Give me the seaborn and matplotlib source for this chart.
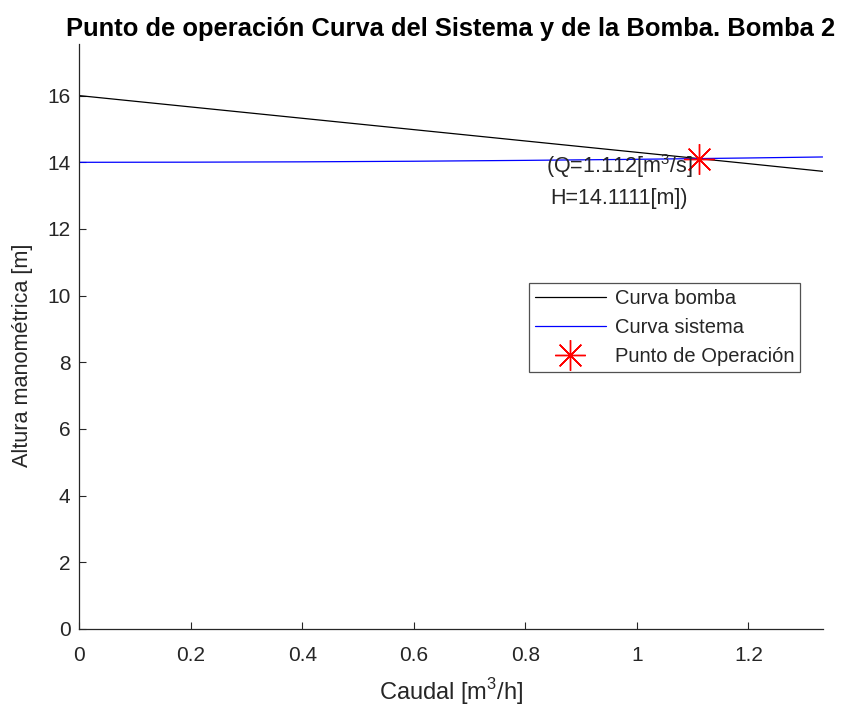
import numpy as np
import pandas as pd
import matplotlib
matplotlib.use("Agg")
import matplotlib.pyplot as plt
import seaborn as sns

# Data
caudal = [0.0, 0.2, 0.4, 0.6, 0.8, 1.0, 1.2, 1.3333]
h_bomba = [16.0, 15.66, 15.32, 14.98, 14.64, 14.30, 13.96, 13.73]
h_sistema = [14.0, 14.004, 14.014, 14.032, 14.058, 14.09, 14.13, 14.16]
q_op = [1.112]
h_op = [14.1111]

title = "Punto de operación Curva del Sistema y de la Bomba. Bomba 2"
xlabel = "Caudal [m$^3$/h]"
ylabel = "Altura manométrica [m]"
labels = ["Curva bomba", "Curva sistema", "Punto de Operación"]
annot = "(Q=1.112[m$^3$/s]\nH=14.1111[m])"

sns.set_style("white")
plt.rcParams['font.family'] = ['Liberation Sans', 'DejaVu Sans']
plt.rcParams['mathtext.fontset'] = 'custom'
plt.rcParams['mathtext.rm'] = 'Liberation Sans'

fig = plt.figure(figsize=(8.42, 7.08), dpi=100)
ax = fig.add_axes([0.0944, 0.1116, 0.8826, 0.8263])

df_b = pd.DataFrame({"Q": caudal, "H": h_bomba})
df_s = pd.DataFrame({"Q": caudal, "H": h_sistema})
df_p = pd.DataFrame({"Q": q_op, "H": h_op})

sns.lineplot(data=df_b, x="Q", y="H", color="black", linewidth=0.9, ax=ax, label=labels[0])
sns.lineplot(data=df_s, x="Q", y="H", color="#0000ff", linewidth=0.9, ax=ax, label=labels[1])
ax.plot(df_p["Q"], df_p["H"], linestyle="none", marker=(8, 2, 0), markersize=22,
        markeredgecolor="#ff0000", markeredgewidth=1.0, color="#ff0000", label=labels[2])

ax.text(0.968, 13.45, annot, ha="center", va="center", fontsize=15.5, color="#262626",
        linespacing=1.55)

ax.set_xlim(0, 1.3333)
ax.set_ylim(0, 17.55)
ax.set_xticks([0, 0.2, 0.4, 0.6, 0.8, 1.0, 1.2])
ax.set_xticklabels(["0", "0.2", "0.4", "0.6", "0.8", "1", "1.2"])
ax.set_yticks(range(0, 17, 2))
ax.tick_params(direction="in", length=5, width=0.8, colors="#262626", labelsize=15,
               left=True, bottom=True)
ax.tick_params(axis="x", pad=12.5)
ax.tick_params(axis="y", pad=6.5)
for s in ["top", "right"]:
    ax.spines[s].set_visible(False)
for s in ["left", "bottom"]:
    ax.spines[s].set_color("#262626")
    ax.spines[s].set_linewidth(0.9)

ax.set_xlabel(xlabel, fontsize=17, color="#262626", labelpad=8)
ax.set_ylabel(ylabel, fontsize=15.6, color="#262626")
ax.yaxis.set_label_coords(-0.0626, 0.467)
ax.set_title(title, fontsize=18.4, fontweight="bold", color="black", pad=6)

leg = ax.legend(loc="upper left", bbox_to_anchor=(0.605, 0.591), fontsize=14.5,
                frameon=True, fancybox=False, edgecolor="#262626", borderpad=0.3,
                handlelength=3.5, handletextpad=0.45, labelspacing=0.5, borderaxespad=0)
leg.get_frame().set_linewidth(0.9)

fig.savefig("out.png", dpi=100)
